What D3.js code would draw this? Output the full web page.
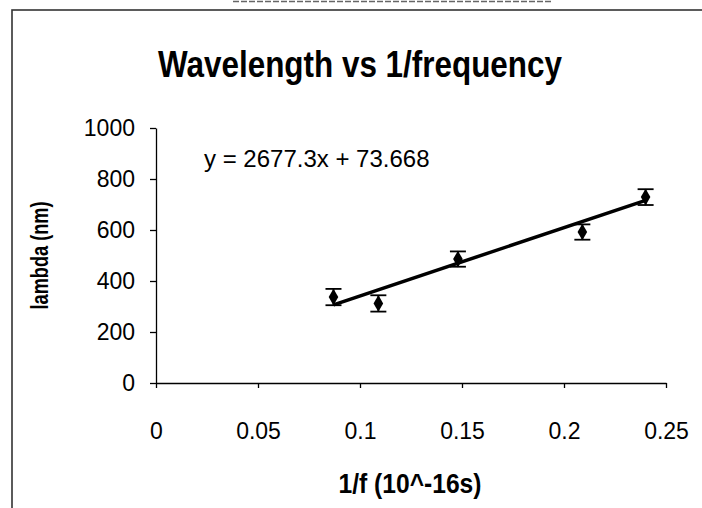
<!DOCTYPE html>
<html>
<head>
<meta charset="utf-8">
<script src="https://cdn.jsdelivr.net/npm/d3@7"></script>
<style>
  body { margin: 0; background: #fff; }
  text { font-family: "Liberation Sans", Arial, sans-serif; fill: #000; }
  .axis path, .axis line { stroke: #000; stroke-width: 1.3; }
  .axis text { font-size: 23px; }
</style>
</head>
<body>
<script>
// data
var xValues = [0.087, 0.109, 0.148, 0.209, 0.240];
var yValues = [337, 312, 486, 592, 729];
var yErrors = [32, 32, 30, 30, 31];
var xTicks = [0, 0.05, 0.1, 0.15, 0.2, 0.25];
var yTicks = [0, 200, 400, 600, 800, 1000];
var slope = 2677.3;
var intercept = 73.668;

var points = xValues.map((x, i) => ({x: x, y: yValues[i], err: yErrors[i]}));

var W = 702, H = 508;

var svg = d3.select('body').append('svg')
  .attr('width', W)
  .attr('height', H);

// scan leftovers: short line at the very top and the chart frame
svg.append('line')
  .attr('x1', 233).attr('x2', 551)
  .attr('y1', 1.5).attr('y2', 1.5)
  .attr('stroke', '#666')
  .attr('stroke-width', 1.5)
  .attr('stroke-dasharray', '6,2');

svg.append('rect')
  .attr('x', 12).attr('y', 10)
  .attr('width', W + 20).attr('height', H + 20)
  .attr('fill', 'none')
  .attr('stroke', '#333')
  .attr('stroke-width', 1.6);

// scales
var xScale = d3.scaleLinear().domain([0, 0.25]).range([156, 666]);
var yScale = d3.scaleLinear().domain([0, 1000]).range([383, 128]);

// axes
svg.append('g')
  .attr('class', 'axis')
  .attr('transform', `translate(${xScale(0)},0)`)
  .call(d3.axisLeft(yScale).tickValues(yTicks).tickSize(6).tickPadding(15).tickSizeOuter(0)
    .tickFormat(d3.format('d')));

svg.append('g')
  .attr('class', 'axis')
  .attr('transform', `translate(0,${yScale(0)})`)
  .call(d3.axisBottom(xScale).tickValues(xTicks).tickSize(5).tickPadding(35).tickSizeOuter(0)
    .tickFormat(d => d === 0 ? '0' : String(d)));

// trendline
var xExt = d3.extent(xValues);
svg.append('line')
  .attr('x1', xScale(xExt[0])).attr('y1', yScale(slope * xExt[0] + intercept))
  .attr('x2', xScale(xExt[1])).attr('y2', yScale(slope * xExt[1] + intercept))
  .attr('stroke', '#000')
  .attr('stroke-width', 3.5);

// error bars
var bars = svg.selectAll('.err')
  .data(points)
  .enter().append('g')
  .attr('class', 'err')
  .attr('stroke', '#000')
  .attr('stroke-width', 1.8);

bars.append('line')
  .attr('x1', d => xScale(d.x)).attr('x2', d => xScale(d.x))
  .attr('y1', d => yScale(d.y + d.err)).attr('y2', d => yScale(d.y - d.err));
bars.append('line')
  .attr('x1', d => xScale(d.x) - 8).attr('x2', d => xScale(d.x) + 8)
  .attr('y1', d => yScale(d.y + d.err)).attr('y2', d => yScale(d.y + d.err));
bars.append('line')
  .attr('x1', d => xScale(d.x) - 8).attr('x2', d => xScale(d.x) + 8)
  .attr('y1', d => yScale(d.y - d.err)).attr('y2', d => yScale(d.y - d.err));

// diamond markers
svg.selectAll('.pt')
  .data(points)
  .enter().append('path')
  .attr('class', 'pt')
  .attr('d', d3.symbol(d3.symbolDiamond, 80))
  .attr('transform', d => `translate(${xScale(d.x)},${yScale(d.y)})`)
  .attr('fill', '#000');

// title (narrow bold face in the scan)
svg.append('text')
  .text('Wavelength vs 1/frequency')
  .attr('x', 360).attr('y', 77)
  .attr('text-anchor', 'middle')
  .attr('textLength', 404)
  .attr('lengthAdjust', 'spacingAndGlyphs')
  .style('font-size', '36px')
  .style('font-weight', 'bold');

// equation
svg.append('text')
  .text('y = 2677.3x + 73.668')
  .attr('x', 204).attr('y', 167)
  .style('font-size', '24px');

// axis labels
svg.append('text')
  .text('1/f (10^-16s)')
  .attr('x', 410).attr('y', 493)
  .attr('text-anchor', 'middle')
  .attr('textLength', 143)
  .attr('lengthAdjust', 'spacingAndGlyphs')
  .style('font-size', '27px')
  .style('font-weight', 'bold');

svg.append('text')
  .text('lambda (nm)')
  .attr('transform', `translate(48,${(yScale(0) + yScale(1000)) / 2}) rotate(-90)`)
  .attr('text-anchor', 'middle')
  .attr('textLength', 108)
  .attr('lengthAdjust', 'spacingAndGlyphs')
  .style('font-size', '24px')
  .style('font-weight', 'bold');
</script>
</body>
</html>
